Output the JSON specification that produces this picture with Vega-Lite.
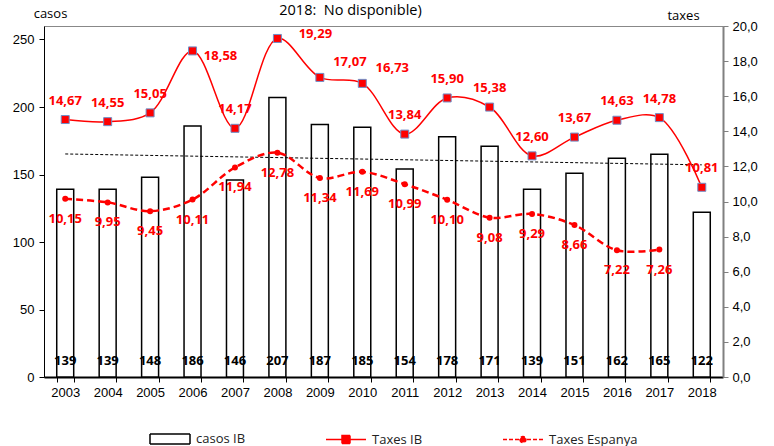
{
  "$schema": "https://vega.github.io/schema/vega-lite/v6.json",
  "width": 679,
  "height": 351,
  "autosize": {"type": "none"},
  "padding": {"left": 44, "top": 26, "right": 51, "bottom": 69},
  "title": {"text": "2018:\u00a0 No disponible)", "font": "Open Sans", "fontSize": 14.5, "fontWeight": "normal", "color": "#000000", "anchor": "middle", "dx": -33, "offset": -11},
  "config": {
    "locale": {"number": {"decimal": ",", "thousands": ".", "grouping": [3], "currency": ["", " €"]}},
    "view": {"stroke": "#888888", "strokeWidth": 1},
    "axis": {"labelFont": "Liberation Sans", "labelFontSize": 13, "labelColor": "#000000", "titleFont": "Open Sans", "titleFontSize": 13, "titleFontWeight": "normal", "titleColor": "#000000", "grid": false}
  },
  "data": {"values": [
    {"year": 2003, "casos IB": 139, "Taxes IB": 14.67, "Taxes Espanya": 10.15},
    {"year": 2004, "casos IB": 139, "Taxes IB": 14.55, "Taxes Espanya": 9.95},
    {"year": 2005, "casos IB": 148, "Taxes IB": 15.05, "Taxes Espanya": 9.45},
    {"year": 2006, "casos IB": 186, "Taxes IB": 18.58, "Taxes Espanya": 10.11},
    {"year": 2007, "casos IB": 146, "Taxes IB": 14.17, "Taxes Espanya": 11.94},
    {"year": 2008, "casos IB": 207, "Taxes IB": 19.29, "Taxes Espanya": 12.78},
    {"year": 2009, "casos IB": 187, "Taxes IB": 17.07, "Taxes Espanya": 11.34},
    {"year": 2010, "casos IB": 185, "Taxes IB": 16.73, "Taxes Espanya": 11.69},
    {"year": 2011, "casos IB": 154, "Taxes IB": 13.84, "Taxes Espanya": 10.99},
    {"year": 2012, "casos IB": 178, "Taxes IB": 15.90, "Taxes Espanya": 10.10},
    {"year": 2013, "casos IB": 171, "Taxes IB": 15.38, "Taxes Espanya": 9.08},
    {"year": 2014, "casos IB": 139, "Taxes IB": 12.60, "Taxes Espanya": 9.29},
    {"year": 2015, "casos IB": 151, "Taxes IB": 13.67, "Taxes Espanya": 8.66},
    {"year": 2016, "casos IB": 162, "Taxes IB": 14.63, "Taxes Espanya": 7.22},
    {"year": 2017, "casos IB": 165, "Taxes IB": 14.78, "Taxes Espanya": 7.26},
    {"year": 2018, "casos IB": 122, "Taxes IB": 10.81, "Taxes Espanya": null}
  ]},
  "encoding": {
    "x": {"field": "year", "type": "ordinal", "scale": {"paddingInner": 0.6, "paddingOuter": 0.3},
      "axis": {"title": null, "labelAngle": 0, "domainColor": "#000000", "domainWidth": 2, "tickColor": "#000000", "tickBand": "extent", "tickSize": 5, "labelPadding": 4}}
  },
  "layer": [
    {
      "layer": [
        {
          "mark": {"type": "bar", "fill": "#ffffff", "stroke": "#000000", "strokeWidth": 1.5},
          "encoding": {
            "y": {"field": "casos IB", "type": "quantitative", "scale": {"domain": [0, 250]},
              "axis": {"orient": "left", "title": "casos", "titleAngle": 0, "titleAlign": "center", "titleBaseline": "middle", "titleX": 6, "titleY": -13, "values": [0, 50, 100, 150, 200, 250], "domainColor": "#000000", "tickColor": "#000000", "tickSize": 5, "labelPadding": 5}}
          }
        },
        {
          "mark": {"type": "line", "color": "#000000", "strokeDash": [3, 2], "strokeWidth": 1},
          "transform": [{"regression": "casos IB", "on": "year"}],
          "encoding": {"y": {"field": "casos IB", "type": "quantitative"}}
        },
        {
          "mark": {"type": "text", "font": "Open Sans", "fontSize": 13, "fontWeight": "bold", "color": "#000000", "baseline": "middle", "dy": -16},
          "encoding": {"y": {"datum": 0}, "text": {"field": "casos IB", "type": "quantitative", "format": "d"}}
        }
      ]
    },
    {
      "encoding": {
        "y": {"field": "Taxes IB", "type": "quantitative", "scale": {"domain": [0, 20], "nice": false},
          "axis": {"orient": "right", "title": "taxes", "titleAngle": 0, "titleAlign": "center", "titleBaseline": "middle", "titleX": -40, "titleY": -11, "tickCount": 10, "format": ".1f", "domainColor": "#808080", "domainWidth": 2, "tickColor": "#808080", "tickSize": 5, "labelPadding": 4, "labelOverlap": false, "labelSeparation": 0, "labelBound": false}}
      },
      "layer": [
        {
          "mark": {"type": "line", "interpolate": "catmull-rom", "strokeWidth": 1.5, "color": "#ff0000"}
        },
        {
          "mark": {"type": "line", "interpolate": "catmull-rom", "strokeWidth": 2.5, "strokeDash": [7, 4], "color": "#ff0000"},
          "transform": [{"filter": "isValid(datum['Taxes Espanya'])"}, {"fold": ["Taxes Espanya"], "as": ["k", "Taxes IB"]}]
        },
        {
          "mark": {"type": "point", "shape": "square", "filled": true, "fill": "#ff0000", "stroke": "#6f8fc8", "strokeWidth": 1, "size": 64, "opacity": 1}
        },
        {
          "mark": {"type": "point", "shape": "circle", "filled": true, "fill": "#ff0000", "size": 36, "opacity": 1},
          "transform": [{"filter": "isValid(datum['Taxes Espanya'])"}, {"fold": ["Taxes Espanya"], "as": ["k", "Taxes IB"]}]
        },
        {
          "mark": {"type": "text", "font": "Open Sans", "fontSize": 13, "fontWeight": "bold", "color": "#ff0000", "baseline": "middle", "dy": -19},
          "transform": [{"filter": {"not": {"field": "year", "oneOf": [2006, 2008, 2009, 2010]}}}],
          "encoding": {"text": {"field": "Taxes IB", "type": "quantitative", "format": ".2f"}}
        },
        {
          "mark": {"type": "text", "font": "Open Sans", "fontSize": 13, "fontWeight": "bold", "color": "#ff0000", "baseline": "middle", "dx": 28, "dy": 5},
          "transform": [{"filter": {"field": "year", "equal": 2006}}],
          "encoding": {"text": {"field": "Taxes IB", "type": "quantitative", "format": ".2f"}}
        },
        {
          "mark": {"type": "text", "font": "Open Sans", "fontSize": 13, "fontWeight": "bold", "color": "#ff0000", "baseline": "middle", "dx": 38, "dy": -4},
          "transform": [{"filter": {"field": "year", "equal": 2008}}],
          "encoding": {"text": {"field": "Taxes IB", "type": "quantitative", "format": ".2f"}}
        },
        {
          "mark": {"type": "text", "font": "Open Sans", "fontSize": 13, "fontWeight": "bold", "color": "#ff0000", "baseline": "middle", "dx": 30, "dy": -15},
          "transform": [{"filter": {"field": "year", "oneOf": [2009, 2010]}}],
          "encoding": {"text": {"field": "Taxes IB", "type": "quantitative", "format": ".2f"}}
        },
        {
          "mark": {"type": "text", "font": "Open Sans", "fontSize": 13, "fontWeight": "bold", "color": "#ff0000", "baseline": "middle", "dy": 20},
          "transform": [{"filter": "isValid(datum['Taxes Espanya'])"}, {"fold": ["Taxes Espanya"], "as": ["k", "Taxes IB"]}],
          "encoding": {"text": {"field": "Taxes IB", "type": "quantitative", "format": ".2f"}}
        },
        {
          "mark": {"type": "point", "filled": true, "size": 1600, "opacity": 1, "strokeWidth": 1.5},
          "transform": [{"fold": ["casos IB", "Taxes IB", "Taxes Espanya"], "as": ["series", "v"]}, {"filter": "false"}],
          "encoding": {
            "shape": {"field": "series", "type": "nominal",
              "scale": {"domain": ["casos IB", "Taxes IB", "Taxes Espanya"], "range": ["M-1,-0.25H1V0.25H-1Z", "M-1,0H1M-0.2,-0.2H0.2V0.2H-0.2Z", "M-1,0H1M-0.15,0A0.15,0.15 0 1,0 0.15,0A0.15,0.15 0 1,0 -0.15,0Z"]},
              "legend": {"title": null, "orient": "none", "legendX": 105, "legendY": 392, "direction": "horizontal", "columns": 3, "columnPadding": 77, "symbolSize": 1600, "symbolStrokeWidth": 1.5, "labelFont": "Open Sans", "labelFontSize": 13, "labelColor": "#222222", "labelOffset": 5}},
            "stroke": {"field": "series", "type": "nominal",
              "scale": {"domain": ["casos IB", "Taxes IB", "Taxes Espanya"], "range": ["#000000", "#ff0000", "#ff0000"]},
              "legend": {"title": null, "orient": "none", "legendX": 105, "legendY": 392, "direction": "horizontal", "columns": 3, "columnPadding": 77, "symbolSize": 1600, "symbolStrokeWidth": 1.5, "labelFont": "Open Sans", "labelFontSize": 13, "labelColor": "#222222", "labelOffset": 5}},
            "fill": {"field": "series", "type": "nominal",
              "scale": {"domain": ["casos IB", "Taxes IB", "Taxes Espanya"], "range": ["#ffffff", "#ff0000", "#ff0000"]},
              "legend": {"title": null, "orient": "none", "legendX": 105, "legendY": 392, "direction": "horizontal", "columns": 3, "columnPadding": 77, "symbolSize": 1600, "symbolStrokeWidth": 1.5, "labelFont": "Open Sans", "labelFontSize": 13, "labelColor": "#222222", "labelOffset": 5}},
            "strokeDash": {"field": "series", "type": "nominal",
              "scale": {"domain": ["casos IB", "Taxes IB", "Taxes Espanya"], "range": [[1, 0], [1, 0], [4, 2]]},
              "legend": {"title": null, "orient": "none", "legendX": 105, "legendY": 392, "direction": "horizontal", "columns": 3, "columnPadding": 77, "symbolSize": 1600, "symbolStrokeWidth": 1.5, "labelFont": "Open Sans", "labelFontSize": 13, "labelColor": "#222222", "labelOffset": 5}}
          }
        }
      ]
    }
  ],
  "resolve": {"scale": {"y": "independent"}}
}
